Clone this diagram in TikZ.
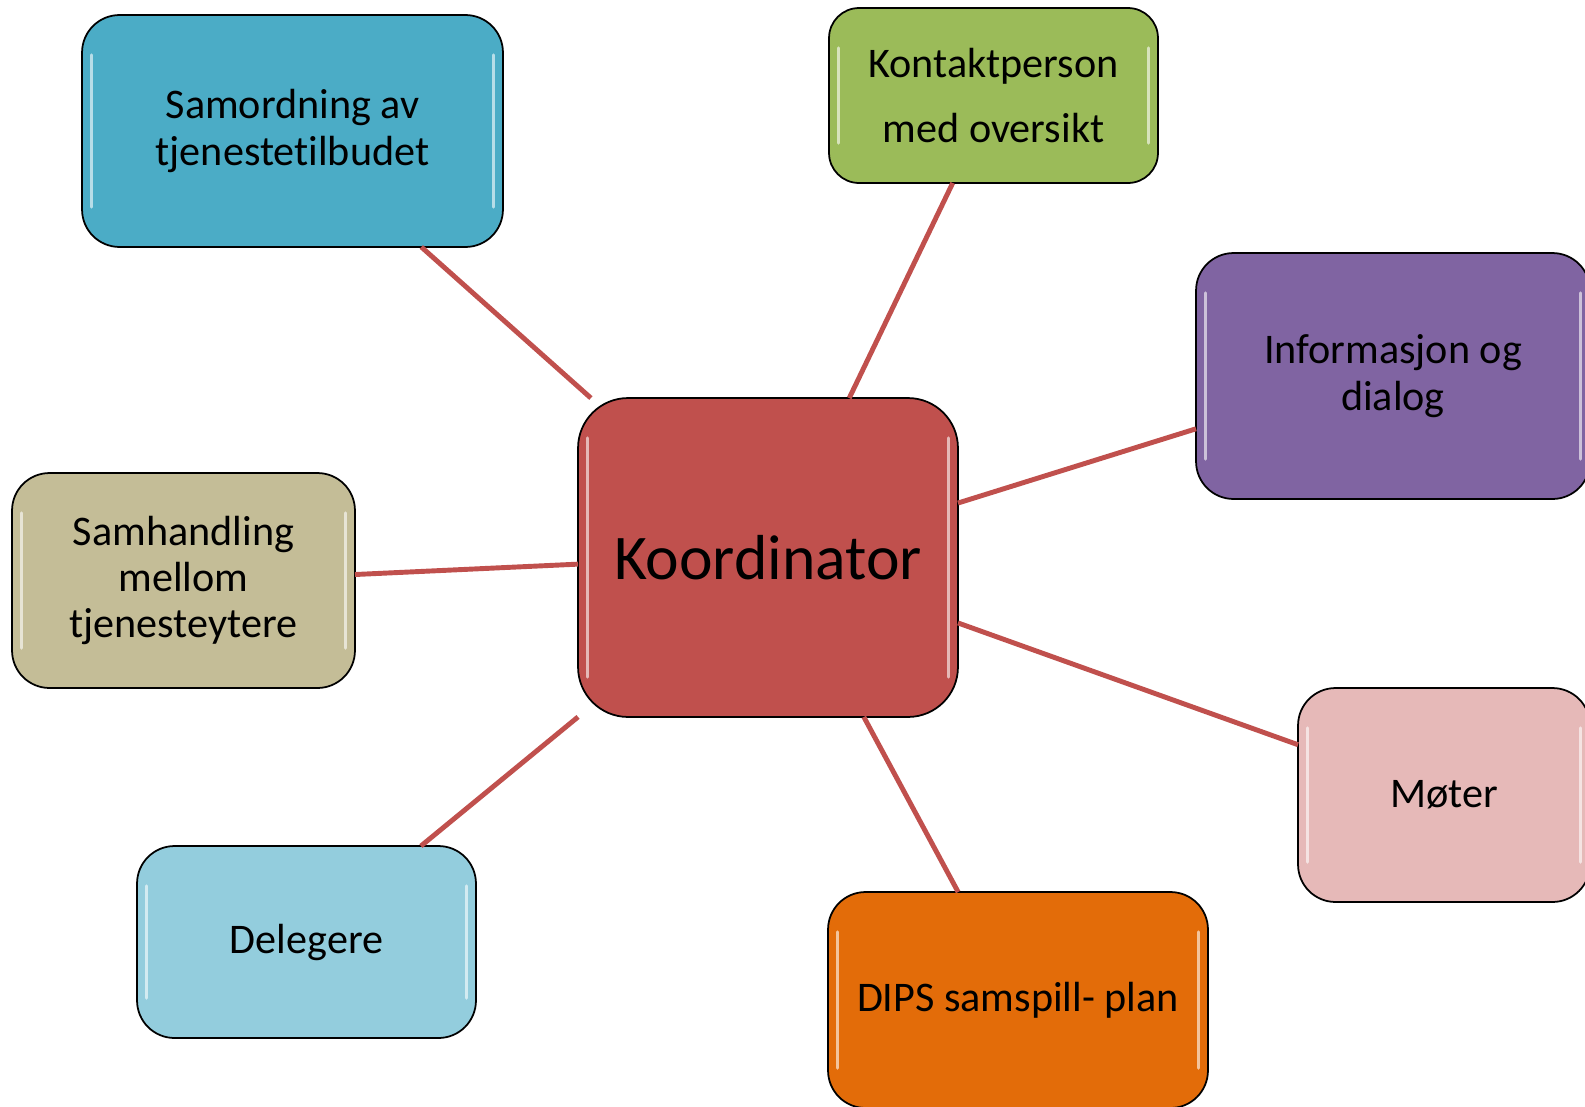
\documentclass[tikz,border=0pt]{standalone}
\usepackage{fontspec}
\setmainfont{Carlito}[Ligatures=NoCommon]
\usetikzlibrary{positioning}

\definecolor{samordcol}{HTML}{4BACC6}
\definecolor{kontaktcol}{HTML}{9BBB59}
\definecolor{infocol}{HTML}{8064A2}
\definecolor{koordcol}{HTML}{C0504D}
\definecolor{samhcol}{HTML}{C4BD97}
\definecolor{motercol}{HTML}{E6B9B8}
\definecolor{delegcol}{HTML}{93CDDD}
\definecolor{dipscol}{HTML}{E36C09}

\tikzset{
  box/.style={draw=black,line width=1pt,rounded corners=0.75cm,inner sep=0pt,outer sep=0pt,
    align=center,font=\fontsize{24pt}{26.4pt}\selectfont,
    path picture={
      \draw[white,opacity=0.6,line width=2pt,line cap=round]
        ([xshift=5.5pt,yshift=-0.8cm]path picture bounding box.north west) --
        ([xshift=5.5pt,yshift=0.8cm]path picture bounding box.south west);
      \draw[white,opacity=0.6,line width=2pt,line cap=round]
        ([xshift=-5.5pt,yshift=-0.8cm]path picture bounding box.north east) --
        ([xshift=-5.5pt,yshift=0.8cm]path picture bounding box.south east);
    }},
  link/.style={draw=koordcol,line width=2.8pt}
}

\begin{document}
\begin{tikzpicture}[x=0.02cm,y=-0.02cm]
\useasboundingbox (0,0) rectangle (1585,1106);

\node[box,fill=samordcol,minimum width=8.42cm,minimum height=4.64cm] (samord) at (292.5,131) {Samordning av\\tjenestetilbudet};
\node[box,fill=kontaktcol,rounded corners=0.6cm,minimum width=6.58cm,minimum height=3.5cm] (kontakt) at (993.5,95.5) {Kontaktperson\\[10.4pt]med oversikt};
\node[box,fill=infocol,minimum width=7.88cm,minimum height=4.92cm] (info) at (1393,376) {Informasjon og\\dialog};
\node[box,fill=koordcol,rounded corners=1cm,minimum width=7.6cm,minimum height=6.38cm,font=\fontsize{36.2pt}{40pt}\selectfont] (koord) at (768,557.5) {Koordinator};
\node[box,fill=samhcol,minimum width=6.86cm,minimum height=4.3cm] (samh) at (183.5,580.5) {Samhandling\\mellom\\tjenesteytere};
\node[box,fill=motercol,minimum width=5.84cm,minimum height=4.28cm] (moter) at (1444,795) {Møter};
\node[box,fill=delegcol,minimum width=6.78cm,minimum height=3.84cm] (deleg) at (306.5,942) {Delegere};
\node[box,fill=dipscol,minimum width=7.6cm,minimum height=4.32cm] (dips) at (1018,1000) {DIPS samspill- plan};

% spokes
\draw[link] (samord.-42) -- (koord.138);
\draw[link] (kontakt.-115.4) -- (koord.63.5);
\draw[link] (info.195.9) -- (koord.16.3);
\draw[link] (samh.2.2) -- (koord.182.9);
\draw[link] (moter.161.1) -- (koord.-19.8);
\draw[link] (deleg.40) -- (koord.220);
\draw[link] (dips.119.5) -- (koord.-59.9);
\end{tikzpicture}
\end{document}
